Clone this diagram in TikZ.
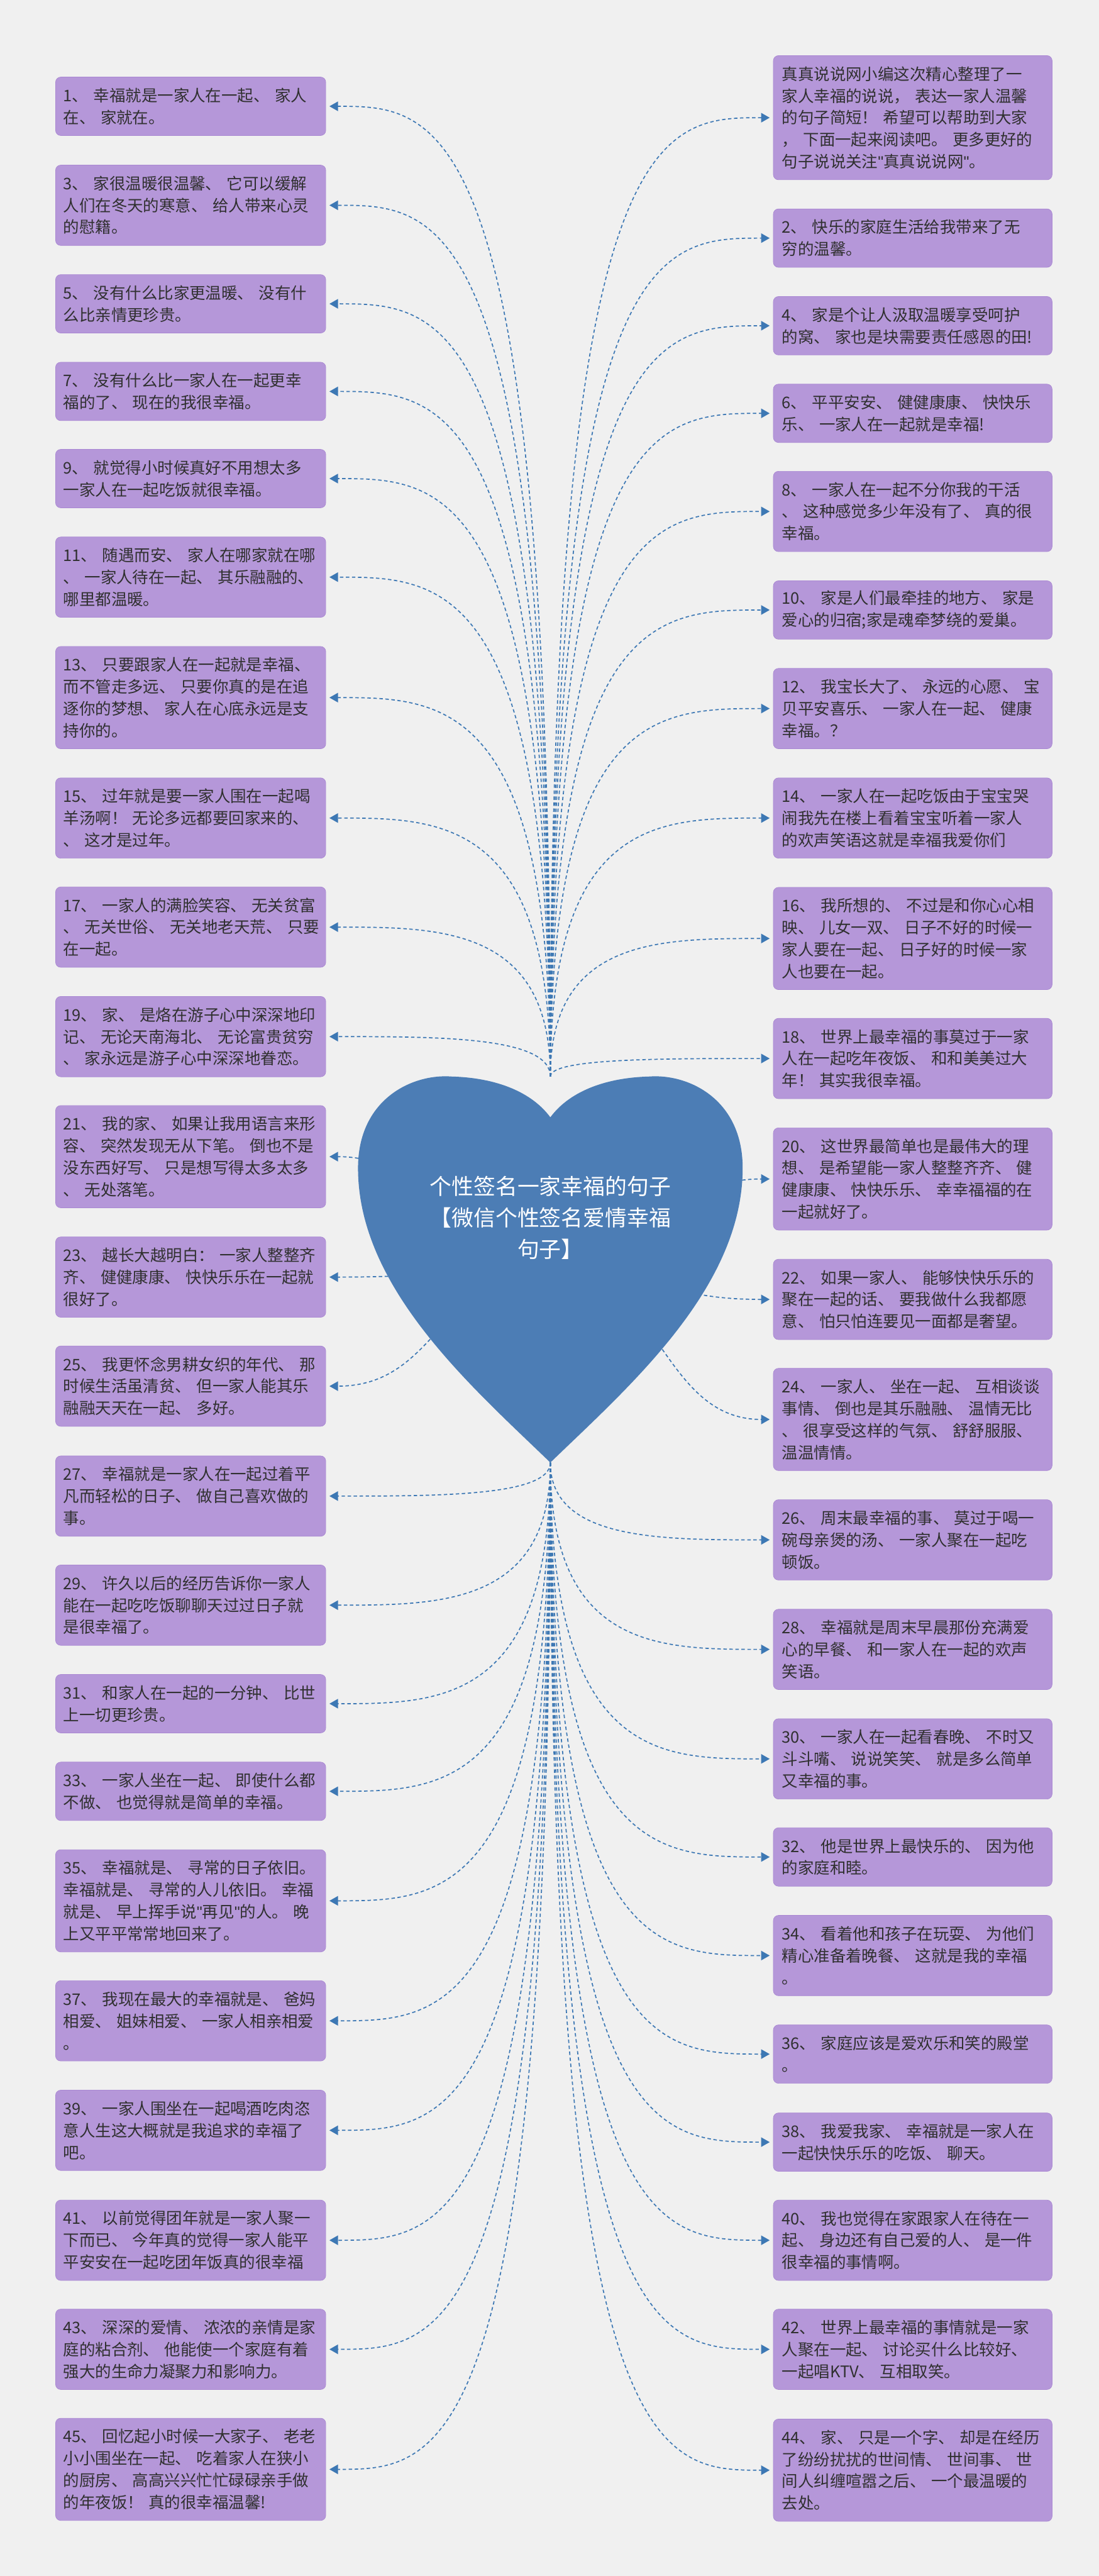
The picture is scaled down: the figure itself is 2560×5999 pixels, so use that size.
\documentclass[tikz,border=0pt]{standalone}
\usepackage{fontspec}
\setmainfont{Noto Sans CJK SC}
\newfontfamily\qfont{Liberation Sans}
\newcommand{\qq}{{\qfont "}}
\usetikzlibrary{arrows.meta}
\definecolor{bgc}{HTML}{F0F0F0}
\definecolor{boxfill}{HTML}{B597D9}
\definecolor{boxdraw}{HTML}{A987D2}
\definecolor{txt}{HTML}{303030}
\definecolor{linec}{HTML}{3D78B4}
\definecolor{heartc}{HTML}{4C7DB5}
\begin{document}
\begin{tikzpicture}[x=0.01cm,y=-0.01cm,
 box/.style={draw=boxdraw, line width=0.01cm, fill=boxfill, rounded corners=0.12cm, anchor=north west, align=left, text=txt, font=\fontsize{10.6}{14.5}\selectfont, inner ysep=0pt},
 lbox/.style={box, text width=5.93cm, inner xsep=0.18cm},
 rbox/.style={box, text width=6.09cm, inner xsep=0.2cm},
 ln2/.style={minimum height=1.36cm},
 ln3/.style={minimum height=1.87cm},
 ln4/.style={minimum height=2.38cm},
 ln5/.style={minimum height=2.89cm},
 conn/.style={draw=linec, line width=0.025cm, dash pattern=on 0.08cm off 0.06cm, -{Triangle[length=0.2cm,width=0.22cm]}, shorten >=0.08cm}]
\fill[bgc] (0,0) rectangle (2560,5999);
\useasboundingbox (0,0) rectangle (2560,5999);

% left boxes
\node[lbox,ln2] (l1) at (129,179) {1、~幸福就是一家人在一起、~家人\\在、~家就在。};
\node[lbox,ln3] (l3) at (129,384) {3、~家很温暖很温馨、~它可以缓解\\人们在冬天的寒意、~给人带来心灵\\的慰籍。};
\node[lbox,ln2] (l5) at (129,639) {5、~没有什么比家更温暖、~没有什\\么比亲情更珍贵。};
\node[lbox,ln2] (l7) at (129,843) {7、~没有什么比一家人在一起更幸\\福的了、~现在的我很幸福。};
\node[lbox,ln2] (l9) at (129,1046) {9、~就觉得小时候真好不用想太多\\一家人在一起吃饭就很幸福。};
\node[lbox,ln3] (l11) at (129,1250) {11、~随遇而安、~家人在哪家就在哪\\、~一家人待在一起、~其乐融融的、\\哪里都温暖。};
\node[lbox,ln4] (l13) at (129,1505) {13、~只要跟家人在一起就是幸福、\\而不管走多远、~只要你真的是在追\\逐你的梦想、~家人在心底永远是支\\持你的。};
\node[lbox,ln3] (l15) at (129,1811) {15、~过年就是要一家人围在一起喝\\羊汤啊！~无论多远都要回家来的、\\、~这才是过年。};
\node[lbox,ln3] (l17) at (129,2065) {17、~一家人的满脸笑容、~无关贫富\\、~无关世俗、~无关地老天荒、~只要\\在一起。};
\node[lbox,ln3] (l19) at (129,2320) {19、~家、~是烙在游子心中深深地印\\记、~无论天南海北、~无论富贵贫穷\\、~家永远是游子心中深深地眷恋。};
\node[lbox,ln4] (l21) at (129,2574) {21、~我的家、~如果让我用语言来形\\容、~突然发现无从下笔。~倒也不是\\没东西好写、~只是想写得太多太多\\、~无处落笔。};
\node[lbox,ln3] (l23) at (129,2880) {23、~越长大越明白：~一家人整整齐\\齐、~健健康康、~快快乐乐在一起就\\很好了。};
\node[lbox,ln3] (l25) at (129,3134) {25、~我更怀念男耕女织的年代、~那\\时候生活虽清贫、~但一家人能其乐\\融融天天在一起、~多好。};
\node[lbox,ln3] (l27) at (129,3390) {27、~幸福就是一家人在一起过着平\\凡而轻松的日子、~做自己喜欢做的\\事。};
\node[lbox,ln3] (l29) at (129,3644) {29、~许久以后的经历告诉你一家人\\能在一起吃吃饭聊聊天过过日子就\\是很幸福了。};
\node[lbox,ln2] (l31) at (129,3899) {31、~和家人在一起的一分钟、~比世\\上一切更珍贵。};
\node[lbox,ln2] (l33) at (129,4103) {33、~一家人坐在一起、~即使什么都\\不做、~也觉得就是简单的幸福。};
\node[lbox,ln4] (l35) at (129,4307) {35、~幸福就是、~寻常的日子依旧。\\幸福就是、~寻常的人儿依旧。~幸福\\就是、~早上挥手说\qq 再见\qq 的人。~晚\\上又平平常常地回来了。};
\node[lbox,ln3] (l37) at (129,4612) {37、~我现在最大的幸福就是、~爸妈\\相爱、~姐妹相爱、~一家人相亲相爱\\。};
\node[lbox,ln3] (l39) at (129,4867) {39、~一家人围坐在一起喝酒吃肉恣\\意人生这大概就是我追求的幸福了\\吧。};
\node[lbox,ln3] (l41) at (129,5123) {41、~以前觉得团年就是一家人聚一\\下而已、~今年真的觉得一家人能平\\平安安在一起吃团年饭真的很幸福};
\node[lbox,ln3] (l43) at (129,5377) {43、~深深的爱情、~浓浓的亲情是家\\庭的粘合剂、~他能使一个家庭有着\\强大的生命力凝聚力和影响力。};
\node[lbox,ln4] (l45) at (129,5631) {45、~回忆起小时候一大家子、~老老\\小小围坐在一起、~吃着家人在狭小\\的厨房、~高高兴兴忙忙碌碌亲手做\\的年夜饭！~真的很幸福温馨!};

% right boxes
\node[rbox,ln5] (r0) at (1801,129) {真真说说网小编这次精心整理了一\\家人幸福的说说，~表达一家人温馨\\的句子简短！~希望可以帮助到大家\\，~下面一起来阅读吧。~更多更好的\\句子说说关注\qq 真真说说网\qq 。};
\node[rbox,ln2] (r2) at (1801,486) {2、~快乐的家庭生活给我带来了无\\穷的温馨。};
\node[rbox,ln2] (r4) at (1801,690) {4、~家是个让人汲取温暖享受呵护\\的窝、~家也是块需要责任感恩的田!};
\node[rbox,ln2] (r6) at (1801,894) {6、~平平安安、~健健康康、~快快乐\\乐、~一家人在一起就是幸福!};
\node[rbox,ln3] (r8) at (1801,1097) {8、~一家人在一起不分你我的干活\\、~这种感觉多少年没有了、~真的很\\幸福。};
\node[rbox,ln2] (r10) at (1801,1352) {10、~家是人们最牵挂的地方、~家是\\爱心的归宿;家是魂牵梦绕的爱巢。};
\node[rbox,ln3] (r12) at (1801,1556) {12、~我宝长大了、~永远的心愿、~宝\\贝平安喜乐、~一家人在一起、~健康\\幸福。？};
\node[rbox,ln3] (r14) at (1801,1811) {14、~一家人在一起吃饭由于宝宝哭\\闹我先在楼上看着宝宝听着一家人\\的欢声笑语这就是幸福我爱你们};
\node[rbox,ln4] (r16) at (1801,2066) {16、~我所想的、~不过是和你心心相\\映、~儿女一双、~日子不好的时候一\\家人要在一起、~日子好的时候一家\\人也要在一起。};
\node[rbox,ln3] (r18) at (1801,2371) {18、~世界上最幸福的事莫过于一家\\人在一起吃年夜饭、~和和美美过大\\年！~其实我很幸福。};
\node[rbox,ln4] (r20) at (1801,2626) {20、~这世界最简单也是最伟大的理\\想、~是希望能一家人整整齐齐、~健\\健康康、~快快乐乐、~幸幸福福的在\\一起就好了。};
\node[rbox,ln3] (r22) at (1801,2932) {22、~如果一家人、~能够快快乐乐的\\聚在一起的话、~要我做什么我都愿\\意、~怕只怕连要见一面都是奢望。};
\node[rbox,ln4] (r24) at (1801,3186) {24、~一家人、~坐在一起、~互相谈谈\\事情、~倒也是其乐融融、~温情无比\\、~很享受这样的气氛、~舒舒服服、\\温温情情。};
\node[rbox,ln3] (r26) at (1801,3492) {26、~周末最幸福的事、~莫过于喝一\\碗母亲煲的汤、~一家人聚在一起吃\\顿饭。};
\node[rbox,ln3] (r28) at (1801,3747) {28、~幸福就是周末早晨那份充满爱\\心的早餐、~和一家人在一起的欢声\\笑语。};
\node[rbox,ln3] (r30) at (1801,4002) {30、~一家人在一起看春晚、~不时又\\斗斗嘴、~说说笑笑、~就是多么简单\\又幸福的事。};
\node[rbox,ln2] (r32) at (1801,4256) {32、~他是世界上最快乐的、~因为他\\的家庭和睦。};
\node[rbox,ln3] (r34) at (1801,4460) {34、~看着他和孩子在玩耍、~为他们\\精心准备着晚餐、~这就是我的幸福\\。};
\node[rbox,ln2] (r36) at (1801,4715) {36、~家庭应该是爱欢乐和笑的殿堂\\。};
\node[rbox,ln2] (r38) at (1801,4920) {38、~我爱我家、~幸福就是一家人在\\一起快快乐乐的吃饭、~聊天。};
\node[rbox,ln3] (r40) at (1801,5123) {40、~我也觉得在家跟家人在待在一\\起、~身边还有自己爱的人、~是一件\\很幸福的事情啊。};
\node[rbox,ln3] (r42) at (1801,5377) {42、~世界上最幸福的事情就是一家\\人聚在一起、~讨论买什么比较好、\\一起唱KTV、~互相取笑。};
\node[rbox,ln4] (r44) at (1801,5633) {44、~家、~只是一个字、~却是在经历\\了纷纷扰扰的世间情、~世间事、~世\\间人纠缠喧嚣之后、~一个最温暖的\\去处。};

% connector anchors
\coordinate (rt) at (1282,2507);
\coordinate (rb) at (1282,3406);
\coordinate (rc) at (1282,2956);
\coordinate (lm) at (1024,2956);
\coordinate (rm) at (1537,2956);

% connectors
\foreach \i in {1,3,...,19}
  \draw[conn] (rt) .. controls (rt |- l\i.east) and (lm |- l\i.east) .. (l\i.east);
\foreach \i in {21,23,25}
  \draw[conn] (rc) .. controls (lm) and (lm |- l\i.east) .. (l\i.east);
\foreach \i in {27,29,...,45}
  \draw[conn] (rb) .. controls (rb |- l\i.east) and (lm |- l\i.east) .. (l\i.east);
\foreach \i in {0,2,...,18}
  \draw[conn] (rt) .. controls (rt |- r\i.west) and (rm |- r\i.west) .. (r\i.west);
\foreach \i in {20,22,24}
  \draw[conn] (rc) .. controls (rm) and (rm |- r\i.west) .. (r\i.west);
\foreach \i in {26,28,...,44}
  \draw[conn] (rb) .. controls (rb |- r\i.west) and (rm |- r\i.west) .. (r\i.west);

% heart
\fill[heartc] (1282,3406) .. controls (1100,3230) and (834,3000) .. (834,2720)
  .. controls (834,2560) and (960,2500) .. (1052,2507)
  .. controls (1160,2510) and (1240,2545) .. (1282,2602)
  .. controls (1324,2545) and (1404,2510) .. (1512,2507)
  .. controls (1604,2500) and (1730,2560) .. (1730,2720)
  .. controls (1730,3000) and (1464,3230) .. (1282,3406) -- cycle;
\node[text=white, align=center, font=\fontsize{14.5}{20.7}\selectfont] (root) at (1282,2836) {个性签名一家幸福的句子\\【微信个性签名爱情幸福\\句子】};
\end{tikzpicture}
\end{document}
